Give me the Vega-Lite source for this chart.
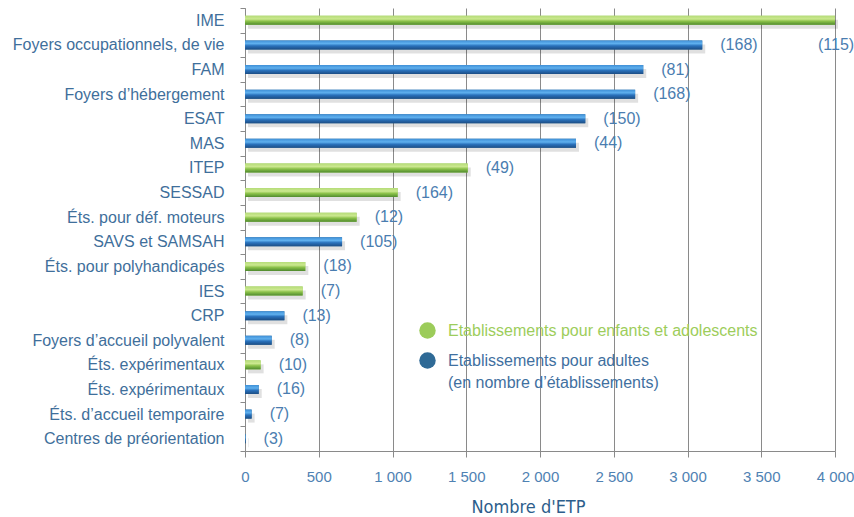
{
  "$schema": "https://vega.github.io/schema/vega-lite/v6.json",
  "autosize": "none",
  "width": 590,
  "height": 443,
  "padding": {"left": 245, "top": 8, "right": 19, "bottom": 66},
  "background": "white",
  "config": {
    "view": {"stroke": null},
    "font": "Liberation Sans"
  },
  "data": {
    "values": [
      {"cat": "IME", "value": 4000, "n": "(115)", "group": "Etablissements pour enfants et adolescents"},
      {"cat": "Foyers occupationnels, de vie", "value": 3100, "n": "(168)", "group": "Etablissements pour adultes"},
      {"cat": "FAM", "value": 2700, "n": "(81)", "group": "Etablissements pour adultes"},
      {"cat": "Foyers d’hébergement", "value": 2645, "n": "(168)", "group": "Etablissements pour adultes"},
      {"cat": "ESAT", "value": 2307, "n": "(150)", "group": "Etablissements pour adultes"},
      {"cat": "MAS", "value": 2244, "n": "(44)", "group": "Etablissements pour adultes"},
      {"cat": "ITEP", "value": 1510, "n": "(49)", "group": "Etablissements pour enfants et adolescents"},
      {"cat": "SESSAD", "value": 1035, "n": "(164)", "group": "Etablissements pour enfants et adolescents"},
      {"cat": "Éts. pour déf. moteurs", "value": 757, "n": "(12)", "group": "Etablissements pour enfants et adolescents"},
      {"cat": "SAVS et SAMSAH", "value": 658, "n": "(105)", "group": "Etablissements pour adultes"},
      {"cat": "Éts. pour polyhandicapés", "value": 409, "n": "(18)", "group": "Etablissements pour enfants et adolescents"},
      {"cat": "IES", "value": 391, "n": "(7)", "group": "Etablissements pour enfants et adolescents"},
      {"cat": "CRP", "value": 267, "n": "(13)", "group": "Etablissements pour adultes"},
      {"cat": "Foyers d’accueil polyvalent", "value": 181, "n": "(8)", "group": "Etablissements pour adultes"},
      {"cat": "Éts. expérimentaux", "value": 106, "n": "(10)", "group": "Etablissements pour enfants et adolescents"},
      {"cat": "Éts. expérimentaux\u200b", "value": 93, "n": "(16)", "group": "Etablissements pour adultes"},
      {"cat": "Éts. d’accueil temporaire", "value": 45, "n": "(7)", "group": "Etablissements pour adultes"},
      {"cat": "Centres de préorientation", "value": 4, "n": "(3)", "group": "Etablissements pour adultes"}
    ]
  },
  "encoding": {
    "y": {
      "field": "cat", "type": "nominal", "sort": null,
      "scale": {"paddingInner": 0, "paddingOuter": 0},
      "axis": {
        "title": null,
        "tickBand": "extent",
        "domainColor": "#8a8a8a", "tickColor": "#8a8a8a", "tickSize": 5,
        "labelColor": "#3f6f9b", "labelFontSize": 16, "labelPadding": 16, "labelLimit": 400,
        "labelFont": "Liberation Sans", "grid": false
      }
    },
    "x": {
      "field": "value", "type": "quantitative",
      "scale": {"domain": [0, 4000], "nice": false},
      "axis": {
        "values": [0, 500, 1000, 1500, 2000, 2500, 3000, 3500, 4000],
        "labelExpr": "replace(format(datum.value, ',d'), ',', ' ')",
        "grid": true, "gridColor": "#8a8a8a", "gridWidth": 1,
        "domainColor": "#8a8a8a", "tickColor": "#8a8a8a", "tickSize": 6,
        "labelColor": "#4f82b3", "labelFontSize": 15, "labelPadding": 12,
        "labelOverlap": false, "labelBound": false, "labelFlush": false,
        "title": "Nombre d'ETP", "titleFont": "DejaVu Sans Condensed, DejaVu Sans, Liberation Sans", "titleFontSize": 18,
        "titleFontWeight": "normal", "titleColor": "#2d5e8c", "titlePadding": 14, "titleX": 283
      }
    }
  },
  "layer": [
    {
      "mark": {"type": "bar", "size": 9, "xOffset": 3, "yOffset": 4, "color": "#000000", "opacity": 0.12},
      "encoding": {}
    },
    {
      "mark": {"type": "bar", "size": 9},
      "encoding": {
        "color": {
          "field": "group", "type": "nominal",
          "scale": {"domain": ["Etablissements pour enfants et adolescents", "Etablissements pour adultes"], "range": ["#9ccc5a", "#2f6a96"]},
          "legend": {
            "title": null, "orient": "none", "legendX": 174, "legendY": 314,
            "symbolType": "circle", "symbolSize": 270, "symbolStrokeWidth": 0,
            "labelFontSize": 16, "labelOffset": 12, "rowPadding": 13, "labelLimit": 500,
            "labelFont": "Liberation Sans",
            "labelExpr": "datum.value === 'Etablissements pour adultes' ? ['Etablissements pour adultes', '(en nombre d’établissements)'] : datum.label",
            "encode": {
              "labels": {"update": {
                "fill": [{"test": "datum.value === 'Etablissements pour adultes'", "value": "#3f70a0"}, {"value": "#9dcd5b"}],
                "lineHeight": {"value": 22}
              }}
            }
          }
        }
      }
    },
    {
      "mark": {"type": "bar", "size": 9},
      "encoding": {
        "color": {
          "condition": {
            "test": "datum.group === 'Etablissements pour enfants et adolescents'",
            "value": {"gradient": "linear", "x1": 0, "y1": 0, "x2": 0, "y2": 1, "stops": [
              {"offset": 0, "color": "#b5dc78"}, {"offset": 0.35, "color": "#cbe88f"}, {"offset": 0.6, "color": "#8cc24a"}, {"offset": 1, "color": "#4f8a2e"}]}
          },
          "value": {"gradient": "linear", "x1": 0, "y1": 0, "x2": 0, "y2": 1, "stops": [
            {"offset": 0, "color": "#3f8fd6"}, {"offset": 0.35, "color": "#5fb0ee"}, {"offset": 0.6, "color": "#2a72bc"}, {"offset": 1, "color": "#1c4d84"}]}
        }
      }
    },
    {
      "transform": [{"filter": "datum.cat !== 'IME'"}],
      "mark": {"type": "text", "align": "left", "baseline": "middle", "dx": 18, "fontSize": 16, "color": "#4a7db0", "font": "Liberation Sans"},
      "encoding": {"text": {"field": "n"}}
    },
    {
      "transform": [{"filter": "datum.cat === 'IME'"}],
      "mark": {"type": "text", "align": "left", "baseline": "middle", "dx": -17, "dy": 25, "fontSize": 16, "color": "#4a7db0", "font": "Liberation Sans"},
      "encoding": {"text": {"field": "n"}}
    }
  ]
}
